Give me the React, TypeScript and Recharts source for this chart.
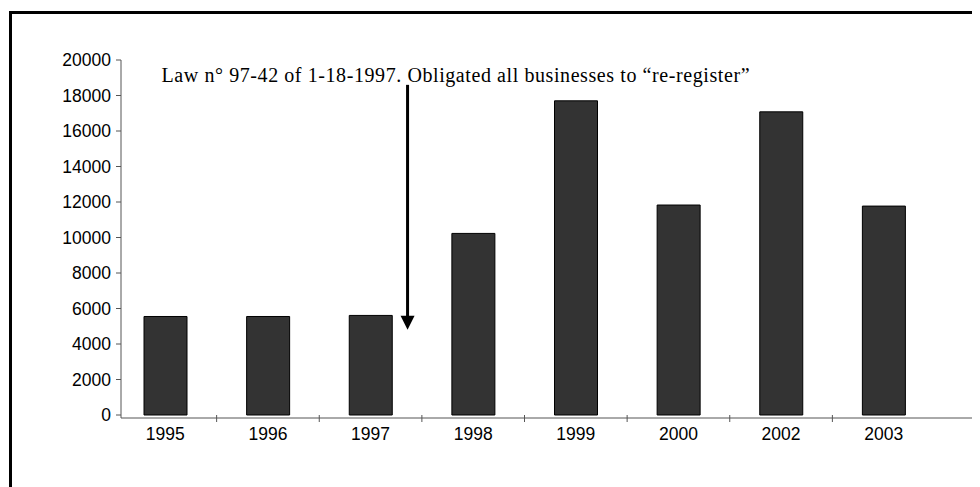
import React from 'react';
import { BarChart, Bar, XAxis, YAxis, ReferenceLine } from 'recharts';

const categories = ['1995', '1996', '1997', '1998', '1999', '2000', '2002', '2003'];
const registrations = [5550, 5550, 5610, 10230, 17700, 11830, 17080, 11770];
const yTicks = [0, 2000, 4000, 6000, 8000, 10000, 12000, 14000, 16000, 18000, 20000];
const annotationText = 'Law n° 97-42 of 1-18-1997. Obligated all businesses to “re-register”';
const arrowYear = '1997';
const arrowTop = 18600;
const arrowTip = 4800;

const data = categories.map((year, i) => ({ year, value: registrations[i] }));

const SANS = '"Liberation Sans", Arial, sans-serif';
const SERIF = '"Liberation Serif", "Times New Roman", serif';

function XTick(props: any) {
  const { x, y, payload, index } = props;
  const off = payload && typeof payload.offset === 'number' ? payload.offset : 51.3;
  return (
    <g>
      <text x={x} y={y + 22} textAnchor="middle" fontSize={17.5} fontFamily={SANS} fill="#000">
        {payload.value}
      </text>
      {index < categories.length - 1 && (
        <line x1={x + off} x2={x + off} y1={y - 3} y2={y + 4} stroke="#555" strokeWidth={1} />
      )}
    </g>
  );
}

function ArrowShape(props: any) {
  const { x1, y1, y2 } = props;
  const ax = x1 + 37;
  return (
    <g>
      <line x1={ax} y1={y1} x2={ax} y2={y2 - 12} stroke="#000" strokeWidth={3} />
      <polygon points={`${ax - 7},${y2 - 14} ${ax + 7},${y2 - 14} ${ax},${y2}`} fill="#000" />
      <text
        x={ax - 246}
        y={y1 - 3}
        fontSize={20}
        fontFamily={SERIF}
        fill="#000"
        textLength={588}
        lengthAdjust="spacing"
      >
        {annotationText}
      </text>
    </g>
  );
}

export default function App() {
  return (
    <div style={{ position: 'relative', width: 972, height: 479 }}>
      <div
        style={{
          position: 'absolute',
          left: 1,
          top: 3,
          right: 0,
          bottom: 0,
          borderTop: '3px solid #000',
          borderLeft: '3px solid #000',
        }}
      />
      <div style={{ position: 'absolute', left: 0, top: 0 }}>
        <BarChart
          width={972}
          height={479}
          data={data}
          margin={{ top: 52, right: 8, bottom: 39, left: 0 }}
        >
          <XAxis
            dataKey="year"
            height={30}
            padding={{ left: -7, right: 37 }}
            axisLine={{ stroke: '#555', strokeWidth: 1 }}
            tickLine={false}
            tickSize={0}
            tickMargin={0}
            interval={0}
            tick={<XTick />}
          />
          <YAxis
            width={113}
            domain={[0, 20000]}
            ticks={yTicks}
            interval={0}
            padding={{ top: 0, bottom: 3 }}
            axisLine={{ stroke: '#555', strokeWidth: 1 }}
            tickLine={{ stroke: '#555', strokeWidth: 1 }}
            tickSize={5}
            tickMargin={5}
            tick={{ fontSize: 17.5, fill: '#000', fontFamily: SANS }}
          />
          <Bar
            dataKey="value"
            fill="#333333"
            stroke="#000"
            strokeWidth={1}
            barSize={43}
            isAnimationActive={false}
          />
          <ReferenceLine
            segment={[
              { x: arrowYear, y: arrowTop },
              { x: arrowYear, y: arrowTip },
            ]}
            ifOverflow="visible"
            shape={ArrowShape}
          />
        </BarChart>
      </div>
    </div>
  );
}
